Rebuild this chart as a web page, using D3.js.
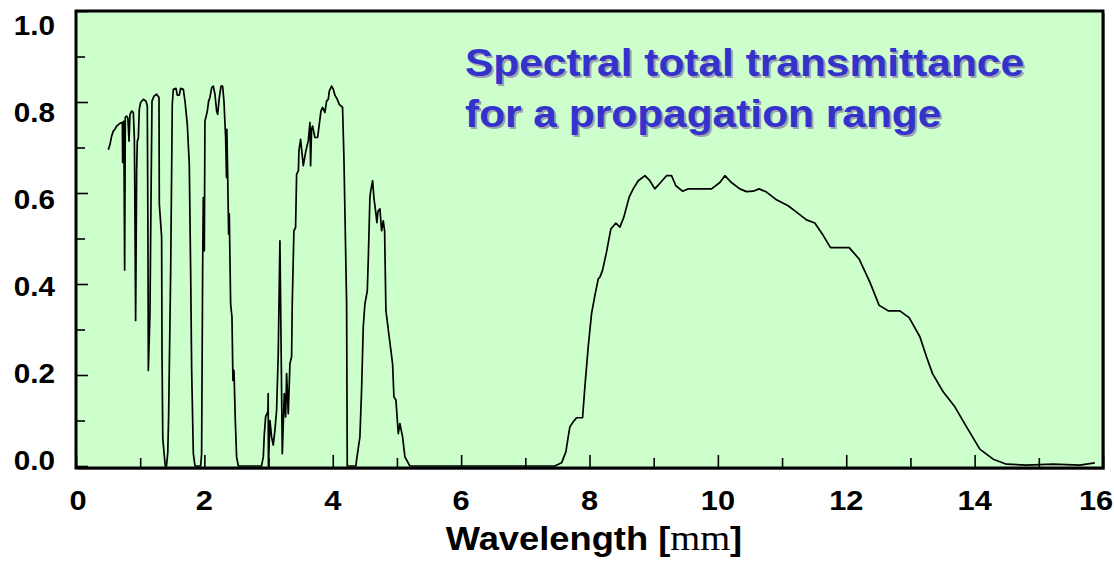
<!DOCTYPE html>
<html>
<head>
<meta charset="utf-8">
<script src="https://cdn.jsdelivr.net/npm/d3@7"></script>
<style>
  html, body { margin: 0; padding: 0; background: #fff; }
  svg { display: block; }
  text { font-family: "Liberation Sans", Arial, sans-serif; font-weight: bold; }
</style>
</head>
<body>
<svg id="chart" width="1114" height="561"></svg>
<script>
// spectral total transmittance as [wavelength um, transmittance]
var nearIR = [
  [0.504, 0.695], [0.53, 0.707], [0.555, 0.725], [0.581, 0.736], [0.607, 0.74], [0.633, 0.747],
  [0.675, 0.752], [0.711, 0.755], [0.722, 0.755], [0.727, 0.667], [0.732, 0.755], [0.745, 0.758],
  [0.758, 0.431], [0.768, 0.766], [0.789, 0.769], [0.808, 0.765], [0.826, 0.714], [0.841, 0.773],
  [0.867, 0.78], [0.893, 0.777], [0.909, 0.722], [0.914, 0.649], [0.929, 0.32], [0.945, 0.649],
  [0.955, 0.714], [0.971, 0.72], [0.986, 0.784], [1.007, 0.799], [1.049, 0.806], [1.09, 0.802],
  [1.111, 0.791], [1.121, 0.503], [1.127, 0.21], [1.152, 0.334], [1.168, 0.576], [1.184, 0.802],
  [1.215, 0.813], [1.256, 0.817], [1.293, 0.81], [1.298, 0.576], [1.334, 0.503], [1.34, 0.25],
  [1.352, 0.06], [1.39, 0.0], [1.41, 0.0], [1.43, 0.03], [1.443, 0.108], [1.475, 0.43],
  [1.5, 0.795], [1.516, 0.828], [1.558, 0.83], [1.578, 0.815], [1.609, 0.815], [1.63, 0.83],
  [1.672, 0.828], [1.698, 0.802], [1.734, 0.751], [1.765, 0.663], [1.786, 0.43], [1.802, 0.21],
  [1.828, 0.027], [1.854, 0.0], [1.942, 0.0], [1.957, 0.027], [1.973, 0.43], [1.983, 0.59],
  [1.999, 0.473], [2.009, 0.758], [2.046, 0.78], [2.066, 0.802], [2.087, 0.81], [2.113, 0.831],
  [2.139, 0.835], [2.165, 0.817], [2.191, 0.78], [2.207, 0.773], [2.233, 0.81], [2.259, 0.835],
  [2.284, 0.835], [2.305, 0.802], [2.331, 0.722], [2.345, 0.634], [2.35, 0.74], [2.362, 0.649],
  [2.378, 0.51], [2.388, 0.554], [2.409, 0.356], [2.43, 0.327], [2.445, 0.188], [2.461, 0.21],
  [2.482, 0.1], [2.502, 0.02], [2.529, 0.0]
];
var midIR = [
  [2.89, 0.0], [2.918, 0.02], [2.933, 0.068], [2.954, 0.108], [2.99, 0.12], [2.994, 0.159],
  [2.998, 0.0], [3.022, 0.1], [3.047, 0.064], [3.073, 0.046], [3.099, 0.079], [3.125, 0.122],
  [3.151, 0.247], [3.177, 0.495], [3.214, 0.027], [3.245, 0.159], [3.266, 0.108], [3.281, 0.203],
  [3.307, 0.115], [3.333, 0.225], [3.359, 0.24], [3.369, 0.356], [3.395, 0.517], [3.421, 0.524],
  [3.437, 0.641], [3.465, 0.649], [3.473, 0.693], [3.499, 0.718], [3.541, 0.66], [3.582, 0.693],
  [3.619, 0.715], [3.645, 0.755], [3.655, 0.66], [3.67, 0.74], [3.686, 0.747], [3.722, 0.722],
  [3.764, 0.722], [3.79, 0.751], [3.816, 0.78], [3.842, 0.788], [3.878, 0.777], [3.904, 0.802],
  [3.93, 0.806], [3.946, 0.824], [3.982, 0.835], [4.008, 0.828], [4.034, 0.815], [4.07, 0.806],
  [4.101, 0.795], [4.153, 0.788], [4.174, 0.678], [4.216, 0.356], [4.226, 0.0], [4.361, 0.0],
  [4.371, 0.013], [4.423, 0.064], [4.449, 0.166], [4.475, 0.305], [4.501, 0.356], [4.538, 0.385],
  [4.553, 0.451], [4.579, 0.59], [4.59, 0.603], [4.621, 0.627], [4.641, 0.59], [4.673, 0.554],
  [4.688, 0.535], [4.704, 0.56], [4.735, 0.565], [4.761, 0.517], [4.787, 0.539], [4.808, 0.517],
  [4.828, 0.342], [4.88, 0.283], [4.932, 0.225], [4.953, 0.152], [4.984, 0.145], [5.021, 0.071],
  [5.046, 0.093], [5.088, 0.064], [5.124, 0.02], [5.202, 0.0]
];
var thermalIR = [
  [7.46, 0.0], [7.565, 0.007], [7.632, 0.031], [7.668, 0.064], [7.694, 0.086], [7.746, 0.097],
  [7.798, 0.106], [7.892, 0.106], [7.928, 0.174], [7.98, 0.262], [8.032, 0.335], [8.084, 0.375],
  [8.136, 0.411], [8.162, 0.415], [8.203, 0.43], [8.265, 0.47], [8.333, 0.521], [8.411, 0.534],
  [8.473, 0.525], [8.535, 0.547], [8.618, 0.591], [8.681, 0.609], [8.759, 0.627], [8.863, 0.638],
  [8.94, 0.627], [9.018, 0.609], [9.107, 0.623], [9.2, 0.638], [9.278, 0.638], [9.345, 0.616],
  [9.449, 0.604], [9.538, 0.609], [9.901, 0.609], [10.031, 0.623], [10.109, 0.638], [10.212, 0.623],
  [10.342, 0.609], [10.446, 0.603], [10.55, 0.604], [10.643, 0.609], [10.758, 0.602], [10.913, 0.585],
  [11.095, 0.572], [11.225, 0.558], [11.381, 0.541], [11.51, 0.534], [11.64, 0.507], [11.755, 0.48],
  [12.046, 0.48], [12.2, 0.455], [12.368, 0.404], [12.513, 0.353], [12.653, 0.341], [12.835, 0.341],
  [12.98, 0.326], [13.147, 0.284], [13.25, 0.24], [13.344, 0.203], [13.51, 0.163], [13.692, 0.13],
  [13.874, 0.086], [14.081, 0.037], [14.289, 0.015], [14.497, 0.004], [14.808, 0.002], [15.223, 0.004],
  [15.639, 0.002], [15.873, 0.007]
];
var xTickLabels = [0, 2, 4, 6, 8, 10, 12, 14, 16];
var yTickLabels = [0, 0.2, 0.4, 0.6, 0.8, 1.0];
var titleLines = ["Spectral total transmittance", "for a propagation range"];

var svg = d3.select("#chart");
var L = 76, R = 1103, T = 11, B = 468;
var stretch = "scale(1.1,1)"; // the original picture is a bit wider than the fonts

var x = d3.scaleLinear().domain([0, 16]).range([L, R]);
var y = d3.scaleLinear().domain([0, 1]).range([466, T]);
// labels in the picture sit on their own spacing
var yLab = d3.scaleLinear().domain([0, 1]).range([469.5, 34.5]);

svg.append("rect").attr("x", L + 2).attr("y", T + 2).attr("width", R - L).attr("height", B - T)
  .attr("fill", "#9a9a9a");
svg.append("rect").attr("x", L).attr("y", T).attr("width", R - L).attr("height", B - T)
  .attr("fill", "#ccffcc");

// title with drop shadow
var title = svg.append("g");
titleLines.forEach(function (s, i) {
  [["#a0a0b0", 2], ["#3333cc", 0]].forEach(function (c) {
    title.append("text")
      .attr("transform", "translate(" + (465 + c[1]) + "," + (76 + i * 51 + c[1]) + ") " + stretch)
      .attr("font-size", 38.6).attr("fill", c[0]).text(s);
  });
});

// inside ticks
function inTicks(axis, vals, size) {
  return axis.tickValues(vals).tickSize(size).tickFormat("").tickSizeOuter(0);
}
var gx = svg.append("g").attr("transform", "translate(0," + B + ")");
gx.append("g").call(inTicks(d3.axisBottom(x), [1, 3, 5, 7, 9, 11, 13, 15], -10));
gx.append("g").call(inTicks(d3.axisBottom(x), xTickLabels, -13));
var gy = svg.append("g").attr("transform", "translate(" + L + ",0)");
gy.append("g").call(inTicks(d3.axisLeft(y), [0.1, 0.3, 0.5, 0.7, 0.9], -9));
gy.append("g").call(inTicks(d3.axisLeft(y), yTickLabels, -12));
svg.selectAll(".domain").remove();
svg.selectAll(".tick line").attr("stroke", "#000").attr("stroke-width", 1.6);

var data = nearIR.concat(midIR, thermalIR);
var line = d3.line().x(function (d) { return x(d[0]); }).y(function (d) { return y(d[1]); });
svg.append("path").datum(data).attr("d", line)
  .attr("fill", "none").attr("stroke", "#000").attr("stroke-width", 1.7).attr("stroke-linejoin", "round");

svg.append("rect").attr("x", L).attr("y", T).attr("width", R - L).attr("height", B - T)
  .attr("fill", "none").attr("stroke", "#000").attr("stroke-width", 3);

// tick labels
svg.append("g").selectAll("text").data(xTickLabels).enter().append("text")
  .attr("transform", function (d) {
    var px = Math.max(78, Math.min(1096, x(d)));
    return "translate(" + px + ",510) " + stretch;
  })
  .attr("text-anchor", "middle").attr("font-size", 28).attr("fill", "#000")
  .text(function (d) { return d; });
svg.append("g").selectAll("text").data(yTickLabels).enter().append("text")
  .attr("transform", function (d) { return "translate(55," + yLab(d) + ") " + stretch; })
  .attr("text-anchor", "end").attr("font-size", 27).attr("fill", "#000")
  .text(function (d) { return d.toFixed(1); });

// axis title, the unit shows as serif "mm" in the original
var xt = svg.append("text")
  .attr("transform", "translate(594,550) " + stretch)
  .attr("text-anchor", "middle").attr("font-size", 33).attr("fill", "#000");
xt.append("tspan").text("Wavelength [");
xt.append("tspan").attr("font-family", "'Liberation Serif', 'Times New Roman', serif")
  .attr("font-size", 35).attr("font-weight", "normal").text("mm");
xt.append("tspan").text("]");
</script>
</body>
</html>
